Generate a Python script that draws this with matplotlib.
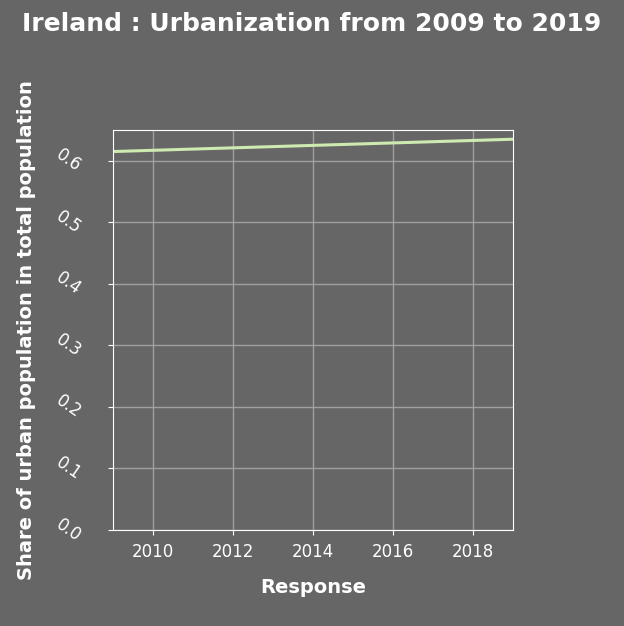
import matplotlib
matplotlib.use("Agg")
import matplotlib.pyplot as plt

years = [2009, 2010, 2011, 2012, 2013, 2014, 2015, 2016, 2017, 2018, 2019]
share = [0.615, 0.617, 0.619, 0.621, 0.623, 0.625, 0.627, 0.629, 0.631, 0.633, 0.635]
xticks = [2010, 2012, 2014, 2016, 2018]
yticks = [0.0, 0.1, 0.2, 0.3, 0.4, 0.5, 0.6]

bg = "#666666"
fig = plt.figure(figsize=(6.24, 6.26), dpi=100, facecolor=bg)
ax = fig.add_axes([113/624, 96/626, 400/624, 400/626], facecolor=bg)
ax.plot(years, share, color="#cdeab0", lw=2.2)
ax.set_xlim(2009, 2019)
ax.set_ylim(0, 0.65)
ax.set_xticks(xticks)
ax.set_yticks(yticks)
ax.set_yticklabels([f"{v:.1f}" for v in yticks], rotation=-35, ha="left", va="center")
ax.grid(True, color="#a0a0a0", lw=1)
ax.set_axisbelow(True)
for s in ax.spines.values():
    s.set_color("white")
ax.tick_params(colors="white", labelsize=12)
ax.tick_params(axis="y", pad=40)
ax.tick_params(axis="x", pad=6)
ax.set_xlabel("Response", color="white", fontsize=14, fontweight="bold", labelpad=12)
ax.set_ylabel("Share of urban population in total population", color="white", fontsize=14, fontweight="bold", labelpad=12)
fig.text(0.5, 0.962, "Ireland : Urbanization from 2009 to 2019", color="white", fontsize=18, fontweight="bold", ha="center", va="center")
fig.savefig("out.png", dpi=100, facecolor=bg)
